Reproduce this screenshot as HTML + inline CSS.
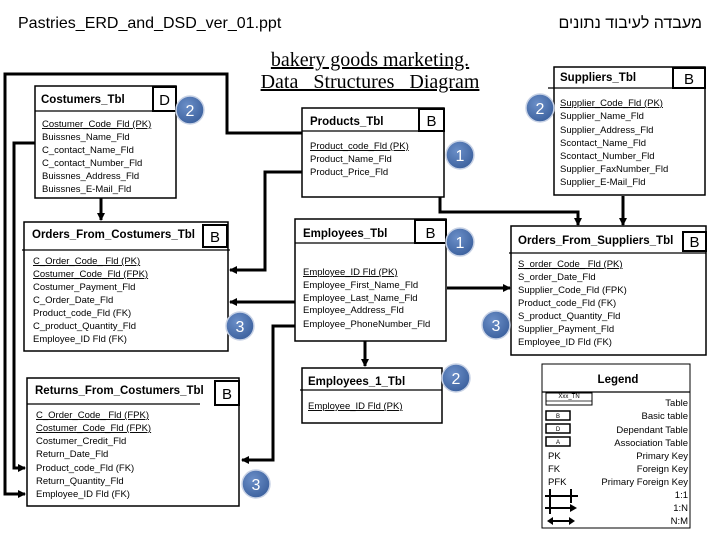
<!DOCTYPE html>
<html><head><meta charset="utf-8"><style>
body{margin:0;background:#fff}
svg{display:block}
.f{font-family:"Liberation Sans",sans-serif;font-size:9.5px;fill:#000}
.h{font-family:"Liberation Sans",sans-serif;font-size:11.5px;font-weight:bold;fill:#000}
.b{font-family:"Liberation Sans",sans-serif;font-size:15px;fill:#000}
.c{font-family:"Liberation Sans",sans-serif;font-size:16px;fill:#fff}
.u{text-decoration:underline}
</style></head><body>
<svg width="720" height="540" xmlns="http://www.w3.org/2000/svg">
<defs>
<marker id="a" markerWidth="8" markerHeight="8" refX="7" refY="4" orient="auto" markerUnits="userSpaceOnUse"><path d="M0,0 L8,4 L0,8z" fill="#000"/></marker>
<radialGradient id="g" cx="40%" cy="35%" r="70%"><stop offset="0" stop-color="#6b8fc8"/><stop offset="1" stop-color="#3a5f9c"/></radialGradient>
</defs>
<text x="18" y="28" font-family="Liberation Sans,sans-serif" font-size="16">Pastries_ERD_and_DSD_ver_01.ppt</text>
<text x="702" y="28" text-anchor="end" font-family="Liberation Sans,'DejaVu Sans',sans-serif" font-size="16">מעבדה לעיבוד נתונים</text>
<text x="370" y="66" text-anchor="middle" font-family="Liberation Serif,serif" font-size="20" text-decoration="underline">bakery goods marketing.</text>
<text x="370" y="88" text-anchor="middle" font-family="Liberation Serif,serif" font-size="20" text-decoration="underline" xml:space="preserve">Data   Structures   Diagram</text>

<g fill="none" stroke="#000" stroke-width="3">
<path d="M302,133 H227 V74 H5 V494 H25" marker-end="url(#a)"/>
<path d="M35,143 H14 V468 H25" marker-end="url(#a)"/>
<path d="M302,172 H265 V270 H230" marker-end="url(#a)"/>
<path d="M296,302 H230" marker-end="url(#a)"/>
<path d="M296,326 H273 V460 H242" marker-end="url(#a)"/>
<path d="M101,196 V220" marker-end="url(#a)"/>
<path d="M440,197 V212 H578 V225" marker-end="url(#a)"/>
<path d="M623,196 V225" marker-end="url(#a)"/>
<path d="M447,288 H510" marker-end="url(#a)"/>
<path d="M365,341 V366" marker-end="url(#a)"/>
</g>

<g fill="#fff" stroke="#000" stroke-width="1.5">
<rect x="35" y="86" width="141" height="112"/>
<rect x="24" y="222" width="204" height="129"/>
<rect x="27" y="378" width="212" height="128"/>
<rect x="302" y="108" width="142" height="89"/>
<rect x="295" y="219" width="151" height="122"/>
<rect x="302" y="368" width="140" height="55"/>
<rect x="554" y="67" width="151" height="128"/>
<rect x="511" y="226" width="195" height="129"/>
<rect x="542" y="364" width="148" height="164" stroke-width="1"/>
</g>
<g stroke="#000" stroke-width="1.2">
<line x1="35" y1="111" x2="176" y2="111"/>
<line x1="22" y1="250" x2="230" y2="250"/>
<line x1="27" y1="404" x2="200" y2="404"/>
<line x1="302" y1="131" x2="444" y2="131"/>
<line x1="295" y1="243" x2="446" y2="243"/>
<line x1="300" y1="390" x2="442" y2="390"/>
<line x1="548" y1="88" x2="705" y2="88"/>
<line x1="509" y1="253" x2="706" y2="253"/>
<line x1="542" y1="392" x2="690" y2="392"/>
</g>
<g fill="#fff" stroke="#000" stroke-width="2">
<rect x="153" y="87" width="23" height="24"/>
<rect x="203" y="225" width="24" height="22"/>
<rect x="215" y="381" width="24" height="24"/>
<rect x="419" y="109" width="25" height="22"/>
<rect x="415" y="220" width="31" height="23"/>
<rect x="673" y="68" width="32" height="20"/>
<rect x="683" y="232" width="23" height="19"/>
</g>
<g class="b" text-anchor="middle">
<text x="164.5" y="105">D</text><text x="215" y="242">B</text><text x="227" y="399">B</text>
<text x="431.5" y="126">B</text><text x="430.5" y="238">B</text><text x="689" y="84">B</text><text x="694.5" y="247">B</text>
</g>

<g class="h">
<text x="41" y="103">Costumers_Tbl</text>
<text x="32" y="238">Orders_From_Costumers_Tbl</text>
<text x="35" y="394">Returns_From_Costumers_Tbl</text>
<text x="310" y="125">Products_Tbl</text>
<text x="303" y="237">Employees_Tbl</text>
<text x="308" y="385">Employees_1_Tbl</text>
<text x="560" y="81">Suppliers_Tbl</text>
<text x="518" y="244">Orders_From_Suppliers_Tbl</text>
<text x="618" y="383" text-anchor="middle">Legend</text>
</g>

<g class="f">
<text x="42" y="127" class="u">Costumer_Code_Fld (PK)</text>
<text x="42" y="140">Buissnes_Name_Fld</text>
<text x="42" y="153">C_contact_Name_Fld</text>
<text x="42" y="166">C_contact_Number_Fld</text>
<text x="42" y="179">Buissnes_Address_Fld</text>
<text x="42" y="192">Buissnes_E-Mail_Fld</text>

<text x="33" y="264" class="u">C_Order_Code_ Fld  (PK)</text>
<text x="33" y="277" class="u">Costumer_Code_Fld (FPK)</text>
<text x="33" y="290">Costumer_Payment_Fld</text>
<text x="33" y="303">C_Order_Date_Fld</text>
<text x="33" y="316">Product_code_Fld  (FK)</text>
<text x="33" y="329">C_product_Quantity_Fld</text>
<text x="33" y="342">Employee_ID Fld   (FK)</text>

<text x="36" y="418" class="u">C_Order_Code_ Fld  (FPK)</text>
<text x="36" y="431" class="u">Costumer_Code_Fld (FPK)</text>
<text x="36" y="444">Costumer_Credit_Fld</text>
<text x="36" y="457">Return_Date_Fld</text>
<text x="36" y="471">Product_code_Fld (FK)</text>
<text x="36" y="484">Return_Quantity_Fld</text>
<text x="36" y="497">Employee_ID Fld   (FK)</text>

<text x="310" y="149" class="u">Product_code_Fld (PK)</text>
<text x="310" y="162">Product_Name_Fld</text>
<text x="310" y="175">Product_Price_Fld</text>

<text x="303" y="275" class="u">Employee_ID Fld   (PK)</text>
<text x="303" y="288">Employee_First_Name_Fld</text>
<text x="303" y="301">Employee_Last_Name_Fld</text>
<text x="303" y="313">Employee_Address_Fld</text>
<text x="303" y="327">Employee_PhoneNumber_Fld</text>

<text x="308" y="409" class="u">Employee_ID Fld   (PK)</text>

<text x="560" y="106" class="u">Supplier_Code_Fld (PK)</text>
<text x="560" y="119">Supplier_Name_Fld</text>
<text x="560" y="133">Supplier_Address_Fld</text>
<text x="560" y="146">Scontact_Name_Fld</text>
<text x="560" y="159">Scontact_Number_Fld</text>
<text x="560" y="172">Supplier_FaxNumber_Fld</text>
<text x="560" y="185">Supplier_E-Mail_Fld</text>

<text x="518" y="267" class="u">S_order_Code_ Fld  (PK)</text>
<text x="518" y="280">S_order_Date_Fld</text>
<text x="518" y="293">Supplier_Code_Fld (FPK)</text>
<text x="518" y="306">Product_code_Fld (FK)</text>
<text x="518" y="319">S_product_Quantity_Fld</text>
<text x="518" y="332">Supplier_Payment_Fld</text>
<text x="518" y="345">Employee_ID Fld  (FK)</text>
</g>

<g class="f" text-anchor="end">
<text x="688" y="406">Table</text>
<text x="688" y="419">Basic table</text>
<text x="688" y="433">Dependant  Table</text>
<text x="688" y="446">Association Table</text>
<text x="688" y="459">Primary Key</text>
<text x="688" y="472">Foreign Key</text>
<text x="688" y="485">Primary Foreign Key</text>
<text x="688" y="498">1:1</text>
<text x="688" y="511">1:N</text>
<text x="688" y="524">N:M</text>
</g>
<g class="f">
<text x="548" y="459">PK</text><text x="548" y="472">FK</text><text x="548" y="485">PFK</text>
</g>
<g fill="none" stroke="#000">
<rect x="546" y="393" width="46" height="12" stroke-width="1"/>
<line x1="546" y1="401" x2="592" y2="401" stroke-width="0.8"/>
<rect x="546" y="411" width="24" height="9" stroke-width="1.5"/>
<rect x="546" y="424" width="24" height="9" stroke-width="1.5"/>
<rect x="546" y="437" width="24" height="9" stroke-width="1.5"/>
<g stroke-width="2">
<line x1="545" y1="496" x2="578" y2="496"/><line x1="550" y1="489" x2="550" y2="503"/><line x1="571" y1="489" x2="571" y2="503"/>
<line x1="545" y1="508" x2="572" y2="508"/><line x1="550" y1="502" x2="550" y2="514"/>
<line x1="550" y1="521" x2="570" y2="521"/>
</g>
</g>
<path d="M570,504 L577,508 L570,512z M547,521 L553,517 L553,525z M575,521 L569,517 L569,525z" fill="#000"/>
<text x="569" y="398" font-family="Liberation Sans,sans-serif" font-size="6" text-anchor="middle">Xxx_TN</text>
<g font-family="Liberation Sans,sans-serif" font-size="6" text-anchor="middle">
<text x="558" y="418">B</text><text x="558" y="431">D</text><text x="558" y="444">A</text>
</g>

<g stroke="#c9d3e6" stroke-width="1.5" fill="url(#g)">
<circle cx="190" cy="110" r="14"/>
<circle cx="240" cy="326" r="14"/>
<circle cx="256" cy="484" r="14"/>
<circle cx="460" cy="155" r="14"/>
<circle cx="460" cy="242" r="14"/>
<circle cx="456" cy="378" r="14"/>
<circle cx="540" cy="108" r="14"/>
<circle cx="496" cy="325" r="14"/>
</g>
<g class="c" text-anchor="middle">
<text x="190" y="116">2</text><text x="240" y="332">3</text><text x="256" y="490">3</text>
<text x="460" y="161">1</text><text x="460" y="248">1</text><text x="456" y="384">2</text>
<text x="540" y="114">2</text><text x="496" y="331">3</text>
</g>
</svg>
</body></html>
